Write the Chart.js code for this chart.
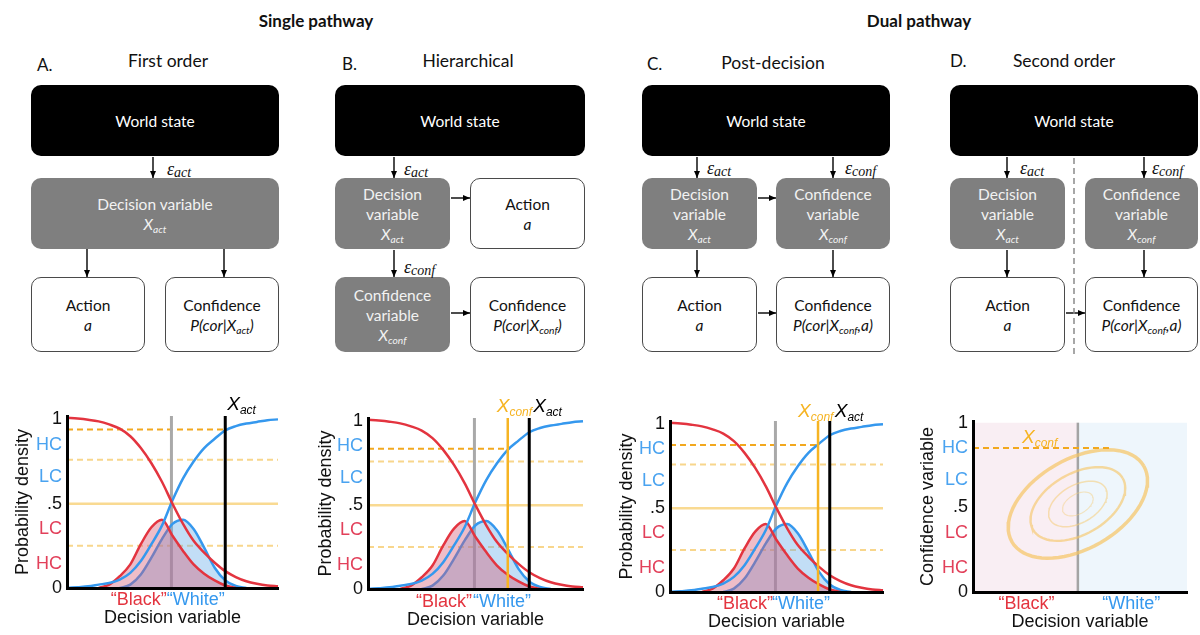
<!DOCTYPE html>
<html>
<head>
<meta charset="utf-8">
<script src="https://cdn.jsdelivr.net/npm/chart.js@4.4.0/dist/chart.umd.min.js"></script>
<style>
  html, body { margin: 0; padding: 0; background: #fff; }
  #page { position: relative; width: 1200px; height: 635px; overflow: hidden; font-family: Lato, 'Open Sans', sans-serif; color: #111; }
  .head { position: absolute; font-weight: 700; font-size: 17px; transform: translate(-50%, -50%); white-space: nowrap; }
  .ttl { position: absolute; font-size: 17.5px; transform: translate(-50%, -50%); white-space: nowrap; }
  .tag { position: absolute; font-size: 17px; transform: translateY(-50%); white-space: nowrap; }
  .box { position: absolute; box-sizing: border-box; border-radius: 10px; display: flex; flex-direction: column;
         align-items: center; justify-content: center; text-align: center; font-size: 15.5px; line-height: 20px; }
  .world { background: #000; color: #fff; }
  .grey { background: #7f7f7f; color: #f2f2f2; }
  .white { background: #fff; border: 1.3px solid #4a4a4a; color: #111; }
  .m { font-style: italic; }
  .m sub { font-size: 0.66em; vertical-align: -0.25em; line-height: 0; }
  .eps { position: absolute; transform: translateY(-50%); font-family: 'Liberation Serif', 'DejaVu Serif', serif; font-style: italic; font-size: 18px; white-space: nowrap; }
  .eps sub { font-size: 14px; vertical-align: -0.2em; line-height: 0; }
  svg.arrows { position: absolute; left: 0; top: 0; }
  .plot { position: absolute; top: 390px; }
</style>
</head>
<body>
<div id="page">
  <!-- group headings -->
  <div class="head" style="left:316px;top:20px">Single pathway</div>
  <div class="head" style="left:919px;top:20px">Dual pathway</div>

  <!-- panel titles -->
  <div class="tag" style="left:37px;top:64px">A.</div>
  <div class="ttl" style="left:168px;top:60px">First order</div>
  <div class="tag" style="left:342px;top:63px">B.</div>
  <div class="ttl" style="left:468px;top:60px">Hierarchical</div>
  <div class="tag" style="left:647px;top:63px">C.</div>
  <div class="ttl" style="left:773px;top:62px">Post-decision</div>
  <div class="tag" style="left:950px;top:60px">D.</div>
  <div class="ttl" style="left:1064px;top:60px">Second order</div>

  <!-- A. First order -->
  <div class="box world" style="left:31px;top:85px;width:248px;height:71px">World state</div>
  <div class="box grey" style="left:31px;top:178px;width:248px;height:71px"><div>Decision variable</div><div class="m">X<sub>act</sub></div></div>
  <div class="box white" style="left:31px;top:277px;width:114px;height:75px"><div>Action</div><div class="m">a</div></div>
  <div class="box white" style="left:165px;top:277px;width:114px;height:75px"><div>Confidence</div><div class="m">P(cor|X<sub>act</sub>)</div></div>
  <div class="eps" style="left:167px;top:169px">ε<sub>act</sub></div>

  <!-- B. Hierarchical -->
  <div class="box world" style="left:335px;top:85px;width:250px;height:71px">World state</div>
  <div class="box grey" style="left:335px;top:178px;width:115px;height:71px"><div>Decision</div><div>variable</div><div class="m">X<sub>act</sub></div></div>
  <div class="box white" style="left:470px;top:178px;width:115px;height:71px"><div>Action</div><div class="m">a</div></div>
  <div class="box grey" style="left:335px;top:277px;width:115px;height:75px"><div>Confidence</div><div>variable</div><div class="m">X<sub>conf</sub></div></div>
  <div class="box white" style="left:470px;top:277px;width:115px;height:75px"><div>Confidence</div><div class="m">P(cor|X<sub>conf</sub>)</div></div>
  <div class="eps" style="left:404px;top:169px">ε<sub>act</sub></div>
  <div class="eps" style="left:404px;top:267px">ε<sub>conf</sub></div>

  <!-- C. Post-decision -->
  <div class="box world" style="left:642px;top:85px;width:248px;height:71px">World state</div>
  <div class="box grey" style="left:642px;top:178px;width:115px;height:71px"><div>Decision</div><div>variable</div><div class="m">X<sub>act</sub></div></div>
  <div class="box grey" style="left:776px;top:178px;width:114px;height:71px"><div>Confidence</div><div>variable</div><div class="m">X<sub>conf</sub></div></div>
  <div class="box white" style="left:642px;top:277px;width:115px;height:75px"><div>Action</div><div class="m">a</div></div>
  <div class="box white" style="left:776px;top:277px;width:114px;height:75px"><div>Confidence</div><div class="m">P(cor|X<sub>conf</sub>,a)</div></div>
  <div class="eps" style="left:707px;top:168px">ε<sub>act</sub></div>
  <div class="eps" style="left:845px;top:168px">ε<sub>conf</sub></div>

  <!-- D. Second order -->
  <div class="box world" style="left:950px;top:85px;width:248px;height:71px">World state</div>
  <div class="box grey" style="left:950px;top:178px;width:115px;height:71px"><div>Decision</div><div>variable</div><div class="m">X<sub>act</sub></div></div>
  <div class="box grey" style="left:1085px;top:178px;width:113px;height:71px"><div>Confidence</div><div>variable</div><div class="m">X<sub>conf</sub></div></div>
  <div class="box white" style="left:950px;top:277px;width:115px;height:75px"><div>Action</div><div class="m">a</div></div>
  <div class="box white" style="left:1085px;top:277px;width:113px;height:75px"><div>Confidence</div><div class="m">P(cor|X<sub>conf</sub>,a)</div></div>
  <div class="eps" style="left:1020px;top:168px">ε<sub>act</sub></div>
  <div class="eps" style="left:1152px;top:168px">ε<sub>conf</sub></div>

  <svg class="arrows" width="1200" height="390">
    <defs>
      <marker id="ah" markerWidth="8" markerHeight="8" refX="7" refY="4" orient="auto" markerUnits="userSpaceOnUse">
        <path d="M0,1 L7,4 L0,7 z" fill="#000"/>
      </marker>
    </defs>
    <g stroke="#000" stroke-width="1.4" marker-end="url(#ah)">
      <line x1="153" y1="157" x2="153" y2="178"/>
      <line x1="87" y1="249" x2="87" y2="277"/>
      <line x1="224" y1="249" x2="224" y2="277"/>

      <line x1="394" y1="157" x2="394" y2="178"/>
      <line x1="394" y1="250" x2="394" y2="277"/>
      <line x1="451" y1="198" x2="470" y2="198"/>
      <line x1="451" y1="313" x2="470" y2="313"/>

      <line x1="697" y1="157" x2="697" y2="178"/>
      <line x1="833" y1="157" x2="833" y2="178"/>
      <line x1="758" y1="198" x2="776" y2="198"/>
      <line x1="697" y1="250" x2="697" y2="277"/>
      <line x1="833" y1="250" x2="833" y2="277"/>
      <line x1="758" y1="313" x2="776" y2="313"/>

      <line x1="1007" y1="157" x2="1007" y2="178"/>
      <line x1="1144" y1="157" x2="1144" y2="178"/>
      <line x1="1007" y1="250" x2="1007" y2="277"/>
      <line x1="1144" y1="250" x2="1144" y2="277"/>
      <line x1="1066" y1="313" x2="1085" y2="313"/>
    </g>
    <line x1="1074" y1="158" x2="1074" y2="356" stroke="#8a8a8a" stroke-width="1.5" stroke-dasharray="6,4"/>
  </svg>

  <div class="plot" style="left:0px"><canvas id="cA" width="290" height="245"></canvas></div>
  <div class="plot" style="left:300px"><canvas id="cB" width="300" height="245"></canvas></div>
  <div class="plot" style="left:600px"><canvas id="cC" width="300" height="245"></canvas></div>
  <div class="plot" style="left:900px"><canvas id="cD" width="300" height="245"></canvas></div>
</div>

<script>
// ---- decision-variable grid and curves (shared by panels A-C) ----
const dv = [0, 0.5, 1, 1.5, 2, 2.5, 3, 3.5, 4, 4.5, 5, 5.5, 6, 6.5, 7, 7.5, 8, 8.5, 9, 9.5, 10];
// P("Black" correct | X) and P("White" correct | X)
const pBlack = [1.01, 1.005, 0.998, 0.988, 0.97, 0.945, 0.9, 0.83, 0.74, 0.63, 0.5, 0.38, 0.28, 0.21, 0.15, 0.1, 0.065, 0.04, 0.025, 0.015, 0.01];
const pWhite = [0, 0.005, 0.01, 0.02, 0.03, 0.05, 0.09, 0.16, 0.26, 0.37, 0.52, 0.65, 0.75, 0.83, 0.885, 0.935, 0.96, 0.975, 0.985, 0.995, 1.0];
// stimulus-conditioned densities of the decision variable
const densBlack = [null, null, null, 0, 0.02, 0.07, 0.14, 0.26, 0.36, 0.405, 0.31, 0.22, 0.14, 0.085, 0.045, 0.015, 0, null, null, null, null];
const densWhite = [null, null, null, null, null, 0, 0.02, 0.08, 0.18, 0.29, 0.38, 0.405, 0.35, 0.24, 0.12, 0.045, 0.012, 0, null, null, null];

// y-axis ticks: probability with confidence bands
const yTickVals  = [0, 0.14, 0.35, 0.5, 0.66, 0.85, 1];
const yTickText  = ['0', 'HC', 'LC', '.5', 'LC', 'HC', '1'];
const yTickTone  = ['k', 'r', 'r', 'k', 'b', 'b', 'k'];
const xTickText  = ['\u201CBlack\u201D', '\u201CWhite\u201D'];

// category boundary and confidence criteria
const boundary = [4.95, 4.95, 4.95, 4.9];        // A, B, C, D
const lcCriteria = [0.25, 0.76];                  // low/high confidence split
const midCriterion = 0.5;
const xActPos  = [7.5, 7.5, 7.5];                 // A, B, C
const xConfPos = [null, 6.5, 6.95, 6.5];          // B, C; D: end of the dashed level
const hcLevel  = [0.94, 0.836, 0.877, 0.85];      // confidence read-out level

// second-order panel: bivariate contours of (X_act, X_conf)
const ellipseCenter = [4.9, 0.52];
const ellipseMajor  = [3.08, 0.224];
const ellipseMinor  = [-1.05, 0.229];
const ringScale     = [1, 0.68, 0.42, 0.22];

const C = {
  red: '#e3343f', blue: '#3598ee', tickRed: '#e2405a', tickBlue: '#4aa3f0',
  redFill: 'rgba(212, 90, 117, 0.4)', blueFill: 'rgba(102, 172, 232, 0.4)',
  orange: '#f2a81e', paleOrange: '#f8d68c', solidOrange: '#f9da92', conf: '#f6b423',
  grey: '#a9a9a9', ink: '#111'
};
const toneColor = { k: C.ink, r: C.tickRed, b: C.tickBlue };

Chart.defaults.font.family = "'Liberation Sans', Arial, sans-serif";
Chart.defaults.font.size = 18;
Chart.defaults.color = C.ink;

const pts = (xs, ys) => xs.map((x, i) => ({ x, y: ys[i] })).filter(p => p.y !== null);
const seg = (x0, y0, x1, y1) => [{ x: x0, y: y0 }, { x: x1, y: y1 }];

// italic X with subscript, anchored on a data position
const markLabels = {
  id: 'markLabels',
  afterDatasetsDraw(chart, args, opts) {
    const { ctx, scales: { x, y } } = chart;
    (opts.items || []).forEach(it => {
      const px = x.getPixelForValue(it.x) + (it.dx || 0);
      const py = y.getPixelForValue(it.y);
      ctx.save();
      ctx.fillStyle = it.color;
      ctx.textAlign = 'left';
      ctx.textBaseline = 'alphabetic';
      ctx.font = "italic 19px 'Liberation Sans', Arial, sans-serif";
      ctx.fillText('X', px, py);
      const w = ctx.measureText('X').width;
      ctx.font = "italic 12px 'Liberation Sans', Arial, sans-serif";
      ctx.fillText(it.sub, px + w, py + 4);
      ctx.restore();
    });
  }
};

function lineDs(data, color, width, order, extra) {
  return Object.assign({ data, borderColor: color, borderWidth: width, pointRadius: 0, showLine: true,
    fill: false, order, clip: false, cubicInterpolationMode: 'monotone' }, extra || {});
}

function axes(L, yTitle, yMax, xTicks) {
  return {
    x: {
      type: 'linear', min: 0, max: 10,
      grid: { display: false, drawTicks: false },
      border: { display: true, color: '#000', width: 3, z: 1 },
      afterBuildTicks: s => { s.ticks = xTicks.map(v => ({ value: v })); },
      afterFit: s => { s.height = L.xh; },
      ticks: { autoSkip: false, maxRotation: 0, minRotation: 0, padding: L.xtick,
               callback: (v, i) => xTickText[i], color: c => (c.index === 0 ? C.red : C.blue) },
      title: { display: true, text: 'Decision variable', color: C.ink, padding: { top: 0, bottom: L.xtp } }
    },
    y: {
      type: 'linear', min: 0, max: yMax,
      grid: { display: false, drawTicks: false },
      border: { display: true, color: '#000', width: 3, z: 1 },
      afterBuildTicks: s => { s.ticks = yTickVals.map(v => ({ value: v })); },
      afterFit: s => { s.width = L.yw; },
      ticks: { autoSkip: false, padding: 5, callback: (v, i) => yTickText[i], color: c => toneColor[yTickTone[c.index]] },
      title: { display: true, text: yTitle, color: C.ink, padding: { top: L.ytp, bottom: 0 } }
    }
  };
}

function densityPanel(id, k, L, xTicks) {
  const yMax = 1.02;
  const ds = [];
  const xEnd = xConfPos[k] !== null ? xConfPos[k] : xActPos[k];
  // confidence criteria
  ds.push(lineDs(seg(0, midCriterion, 10, midCriterion), C.solidOrange, 2.5, 20));
  lcCriteria.forEach(v => ds.push(lineDs(seg(0, v, 10, v), C.paleOrange, 2, 20, { borderDash: [6, 4] })));
  ds.push(lineDs(seg(0, hcLevel[k], xEnd, hcLevel[k]), C.orange, 2, 19, { borderDash: [6, 4] }));
  // category boundary
  ds.push(lineDs(seg(boundary[k], 0, boundary[k], yMax), C.grey, 3, 18));
  // densities
  ds.push(lineDs(pts(dv, densWhite), C.blue, 2.5, 17, { fill: 'origin', backgroundColor: C.blueFill }));
  ds.push(lineDs(pts(dv, densBlack), C.red, 2.5, 16, { fill: 'origin', backgroundColor: C.redFill }));
  // choice probabilities
  ds.push(lineDs(pts(dv, pWhite), C.blue, 2.5, 15));
  ds.push(lineDs(pts(dv, pBlack), C.red, 2.5, 14));
  const labels = [];
  if (xConfPos[k] !== null) {
    ds.push(lineDs(seg(xConfPos[k], 0, xConfPos[k], yMax), C.conf, 2.5, 13));
    labels.push({ x: xConfPos[k], y: L.labY, dx: L.confDx, color: C.conf, sub: 'conf' });
  }
  ds.push(lineDs(seg(xActPos[k], 0, xActPos[k], yMax), '#000', 3, 12));
  labels.push({ x: xActPos[k], y: L.labY, dx: L.actDx, color: '#000', sub: 'act' });

  new Chart(document.getElementById(id), {
    type: 'scatter',
    data: { datasets: ds },
    options: {
      responsive: false, animation: false, events: [],
      layout: { padding: { top: L.top, right: L.right, left: 0, bottom: 0 } },
      scales: axes(L, 'Probability density', yMax, xTicks),
      plugins: { legend: { display: false }, tooltip: { enabled: false }, markLabels: { items: labels } }
    },
    plugins: [markLabels]
  });
}

densityPanel('cA', 0, { yw: 67, xh: 47, top: 26, right: 12, ytp: 12, xtp: 6, xtick: 1, labY: 1.056, actDx: 2 }, [3.4, 6.1]);
densityPanel('cB', 1, { yw: 68, xh: 46, top: 28, right: 17, ytp: 15, xtp: 4, xtick: 2, labY: 1.056, actDx: 4, confDx: -11 }, [3.53, 6.23]);
densityPanel('cC', 2, { yw: 70, xh: 43, top: 31, right: 17, ytp: 16, xtp: 2, xtick: 1, labY: 1.044, actDx: 5, confDx: -20 }, [3.52, 6.15]);

// ---- D. second-order panel ----
(function () {
  const L = { yw: 73, xh: 43, top: 31, right: 13, ytp: 17, xtp: 2, xtick: 1 };
  const yMax = 1.01;
  const b = boundary[3];
  const ds = [];
  ds.push(lineDs(seg(0, 1, b, 1), 'rgba(0,0,0,0)', 0, 30, { fill: 'origin', backgroundColor: '#f9eef3' }));
  ds.push(lineDs(seg(b, 1, 10, 1), 'rgba(0,0,0,0)', 0, 30, { fill: 'origin', backgroundColor: '#eef6fc' }));
  ds.push(lineDs(seg(b, 0, b, 1), '#a4a4a4', 2.5, 25));
  const ringStyle = [
    ['rgba(246, 196, 98, 0.7)', 3.5], ['rgba(246, 200, 108, 0.65)', 2.4],
    ['rgba(246, 204, 118, 0.55)', 1.5], ['rgba(246, 208, 128, 0.5)', 1.1]
  ];
  ringScale.forEach((s, r) => {
    const ring = [];
    for (let i = 0; i <= 72; i++) {
      const t = (i / 72) * Math.PI * 2;
      ring.push({
        x: ellipseCenter[0] + s * (ellipseMajor[0] * Math.cos(t) + ellipseMinor[0] * Math.sin(t)),
        y: ellipseCenter[1] + s * (ellipseMajor[1] * Math.cos(t) + ellipseMinor[1] * Math.sin(t))
      });
    }
    ds.push(lineDs(ring, ringStyle[r][0], ringStyle[r][1], 20 - r, { cubicInterpolationMode: 'default', tension: 0 }));
  });
  ds.push(lineDs(seg(0, hcLevel[3], xConfPos[3], hcLevel[3]), C.orange, 2, 10, { borderDash: [6, 4] }));

  new Chart(document.getElementById('cD'), {
    type: 'scatter',
    data: { datasets: ds },
    options: {
      responsive: false, animation: false, events: [],
      layout: { padding: { top: L.top, right: L.right, left: 0, bottom: 0 } },
      scales: axes(L, 'Confidence variable', yMax, [2.5, 7.4]),
      plugins: { legend: { display: false }, tooltip: { enabled: false },
                 markLabels: { items: [{ x: 2.29, y: 0.88, dx: 0, color: C.conf, sub: 'conf' }] } }
    },
    plugins: [markLabels]
  });
})();
</script>
</body>
</html>
